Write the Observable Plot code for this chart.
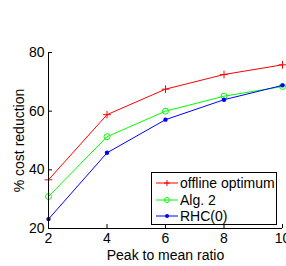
<!DOCTYPE html>
<html><head><meta charset="utf-8">
<script src="https://cdn.jsdelivr.net/npm/d3@7"></script>
<script src="https://cdn.jsdelivr.net/npm/@observablehq/plot@0.6"></script>
<style>
body{margin:0;background:#fff;font-family:"Liberation Sans",Arial,sans-serif;}
#wrap{position:relative;width:286px;height:266px;overflow:hidden;}
#legend{position:absolute;left:151px;top:172px;width:126px;height:53px;border:1px solid #000;background:#fff;font-size:14px;box-sizing:border-box;}
.row{position:absolute;left:0;height:16px;display:flex;align-items:center;white-space:nowrap;line-height:16px;}
.row svg{margin-left:4px;margin-right:2px;display:block;}
</style></head><body><div id="wrap"></div>
<script>
const ratios = [2, 4, 6, 8, 10];
const offline = [36.6, 58.8, 67.5, 72.5, 75.8];
const alg2 = [30.9, 51.3, 60.0, 65.1, 68.4];
const rhc0 = [23.2, 45.8, 57.1, 63.9, 68.8];
const seriesNames = ["offline optimum", "Alg. 2", "RHC(0)"];
const seriesColors = ["#ff0000", "#00ff00", "#0000ff"];
const seriesSymbols = ["plus", "circle", "dot"];
const yTicks = [20, 40, 60, 80];
const xTicks = [2, 4, 6, 8, 10];

const allSeries = [offline, alg2, rhc0];
const data = allSeries.flatMap((vals, i) => ratios.map((r, j) => ({x: r, y: vals[j], s: seriesNames[i]})));
const sub = name => data.filter(d => d.s === name);

const plot = Plot.plot({
  width: 286, height: 266,
  marginLeft: 48, marginRight: 4, marginTop: 52, marginBottom: 38,
  style: {fontSize: "14px", fontFamily: "Liberation Sans, Arial, sans-serif", color: "#000", background: "#fff", overflow: "visible"},
  x: {domain: [2, 10], ticks: xTicks, tickSize: -4, tickPadding: 9, label: "Peak to mean ratio", labelAnchor: "center", labelArrow: "none", labelOffset: 31},
  y: {domain: [20, 80], ticks: yTicks, tickSize: -4, tickPadding: 8, label: "% cost reduction", labelAnchor: "center", labelArrow: "none", labelOffset: 34},
  marks: [
    Plot.line(sub(seriesNames[0]), {x: "x", y: "y", stroke: seriesColors[0], strokeWidth: 1}),
    Plot.dot(sub(seriesNames[0]), {x: "x", y: "y", stroke: seriesColors[0], symbol: "plus", r: 2.6, strokeWidth: 1}),
    Plot.line(sub(seriesNames[1]), {x: "x", y: "y", stroke: seriesColors[1], strokeWidth: 1}),
    Plot.dot(sub(seriesNames[1]), {x: "x", y: "y", stroke: seriesColors[1], symbol: "circle", r: 3, strokeWidth: 1}),
    Plot.line(sub(seriesNames[2]), {x: "x", y: "y", stroke: seriesColors[2], strokeWidth: 1}),
    Plot.dot(sub(seriesNames[2]), {x: "x", y: "y", fill: seriesColors[2], symbol: "circle", r: 2.2}),
    Plot.ruleX([2], {stroke: "#000"}),
    Plot.ruleY([20], {stroke: "#000"})
  ]
});
const wrap = document.getElementById("wrap");
wrap.appendChild(plot);

const legend = document.createElement("div");
legend.id = "legend";
seriesNames.forEach((name, i) => {
  const row = document.createElement("div");
  row.className = "row";
  row.style.top = (2 + i * 16.5) + "px";
  const c = seriesColors[i];
  let marker = "";
  if (seriesSymbols[i] === "plus") marker = `<path d="M11,5v6M8,8h6" stroke="${c}"/>`;
  else if (seriesSymbols[i] === "circle") marker = `<circle cx="11" cy="8" r="2.5" fill="none" stroke="${c}"/>`;
  else marker = `<circle cx="11" cy="8" r="2" fill="${c}"/>`;
  row.innerHTML = `<svg width="22" height="16"><line x1="0" x2="22" y1="8" y2="8" stroke="${c}"/>${marker}</svg><span>${name}</span>`;
  legend.appendChild(row);
});
wrap.appendChild(legend);
</script></body></html>
